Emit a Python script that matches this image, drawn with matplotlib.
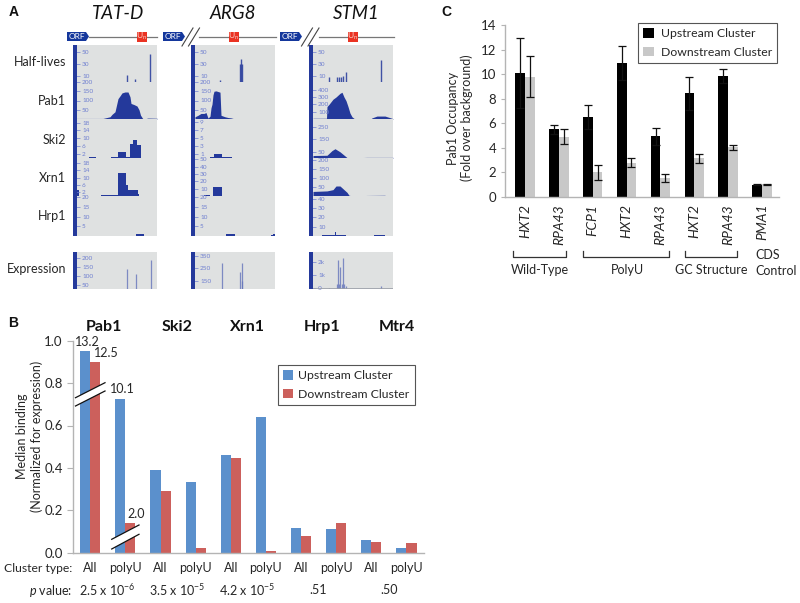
import matplotlib
matplotlib.use("Agg")
import numpy as np
import matplotlib.pyplot as plt
from matplotlib.patches import Polygon, Rectangle
from matplotlib.transforms import ScaledTranslation

plt.rcParams['font.family'] = ['Lato', 'DejaVu Sans']
plt.rcParams['mathtext.fontset'] = 'custom'
plt.rcParams['mathtext.rm'] = 'Lato'
plt.rcParams['mathtext.it'] = 'Lato:italic'
plt.rcParams['mathtext.default'] = 'regular'

W, H = 800, 603
TEXT = '#262626'
GREY_AXIS = '#b4b4b4'
BLUE_TRACK = '#24399b'
TICK_BLUE = '#6f7fd0'

# panel B
binding_labels = ['All', 'polyU'] * 5
binding_up = [0.95, 0.725, 0.39, 0.335, 0.46, 0.64, 0.117, 0.11, 0.06, 0.02]
binding_down = [0.90, 0.14, 0.29, 0.02, 0.445, 0.01, 0.08, 0.14, 0.05, 0.045]
factors = ['Pab1', 'Ski2', 'Xrn1', 'Hrp1', 'Mtr4']
p_values = ['2.5 x 10$^{-6}$', '3.5 x 10$^{-5}$', '4.2 x 10$^{-5}$', '.51', '.50']

# panel C
genes = ['HXT2', 'RPA43', 'FCP1', 'HXT2', 'RPA43', 'HXT2', 'RPA43', 'PMA1']
occ_up = [10.1, 5.5, 6.5, 10.9, 4.95, 8.45, 9.85, 1.0]
occ_down = [9.8, 4.9, 2.0, 2.8, 1.55, 3.15, 4.05, 1.02]
occ_up_err = [2.85, 0.4, 0.95, 1.4, 0.7, 1.35, 0.55, 0.02]
occ_down_err = [1.7, 0.6, 0.6, 0.35, 0.35, 0.35, 0.2, 0.03]

# panel A tracks, x is position along the gene (0-84)
tat_half_x = [53.7, 62, 77.3]
tat_half_y = [12, 5, 47]
tat_pab_x = [0, 30, 37, 39, 42, 45, 47, 49, 52, 55, 57, 58, 61, 64, 66, 67.5, 69.5, 71, 75, 84]
tat_pab_y = [3, 3, 12, 25, 39, 110, 125, 141, 146, 146, 120, 84, 78, 70, 50, 21, 4, 0, 5, 4]
tat_ski_x = [16.3, 23, 38, 44.7, 53, 57, 60, 64.3, 68.3]
tat_ski_y = [0.5, 0, 0.5, 3, 0.5, 7, 9, 6.4, 0]
tat_xrn_x = [3, 6, 28, 45.3, 53, 55.3, 64.7, 66.3]
tat_xrn_y = [3, 0, 0.5, 12.5, 6, 3, 1, 0]
tat_hrp_x = [63, 71]
tat_hrp_y = [1, 0]
tat_expr_x = [54, 62.7, 77.7]
tat_expr_y = [140, 110, 190]

arg_half_x = [29, 48.5, 49.7, 50.7]
arg_half_y = [4, 30, 38, 30]
arg_pab_x = [4, 7, 10, 13, 15, 17, 19, 20, 21, 22, 23, 25, 29, 30, 34, 37, 40, 42, 45]
arg_pab_y = [12, 20, 30, 30, 35, 5, 15, 60, 80, 130, 150, 152, 145, 20, 12, 8, 6, 3, 0]
arg_ski_x = [19, 23, 31.3, 40.7]
arg_ski_y = [0.3, 0.9, 0.3, 0]
arg_xrn_x = [13, 19, 21.7, 31]
arg_xrn_y = [1, 0, 12, 0]
arg_hrp_x = [35, 44, 79.7, 82, 84]
arg_hrp_y = [0.8, 0, 0.6, 1, 1]
arg_expr_x = [30.7, 49.3, 50.7, 51.3]
arg_expr_y = [290, 220, 295, 155]

stm_half_x = [20, 28.3, 30, 32.3, 34.3, 36.7, 71.7]
stm_half_y = [8, 8, 8, 9, 10, 16, 37]
stm_pab_x = [4, 17.5, 18, 20, 24, 27, 31, 33, 35, 37, 39, 41, 43, 45, 48, 62, 63, 68, 76, 84]
stm_pab_y = [10, 10, 170, 200, 270, 300, 350, 365, 300, 250, 170, 80, 30, 8, 3, 3, 15, 40, 40, 5]
stm_ski_x = [4, 18, 23, 26, 31, 34, 37, 38.5, 58, 84]
stm_ski_y = [20, 22, 60, 75, 50, 30, 10, 0, 5, 5]
stm_xrn_x = [4, 18, 24, 27, 31, 34, 38, 40, 44, 58, 76]
stm_xrn_y = [25, 28, 35, 55, 55, 40, 20, 4, 0, 3, 4]
stm_hrp_x = [13, 26, 27, 36.7, 65, 76]
stm_hrp_y = [1.5, 4, 1.5, 0, 1.5, 0]
stm_expr_x = [20, 27.7, 28.7, 30, 31.3, 32.5, 34, 35, 37, 72]
stm_expr_y = [60, 350, 2100, 350, 1600, 350, 2300, 350, 200, 150]

half_ticks = [10, 30, 50]
tat_rows = [
    ('spike', tat_half_x, tat_half_y, (0, 62), half_ticks, None),
    ('fill', tat_pab_x, tat_pab_y, (0, 198), [50, 100, 150, 200], None),
    ('step', tat_ski_x, tat_ski_y, (0, 19.8), [2, 6, 10, 14, 18], None),
    ('step', tat_xrn_x, tat_xrn_y, (0, 20.7), [2, 6, 10, 14, 18], None),
    ('step', tat_hrp_x, tat_hrp_y, (0, 20.7), [5, 10, 15, 20], None),
    ('expr', tat_expr_x, tat_expr_y, (26, 236), [50, 100, 150, 200], None),
]
arg_rows = [
    ('spike', arg_half_x, arg_half_y, (0, 62), half_ticks, None),
    ('fill', arg_pab_x, arg_pab_y, (0, 198), [50, 100, 150, 200], None),
    ('step', arg_ski_x, arg_ski_y, (0, 9.75), [1, 3, 5, 7, 9], None),
    ('step', arg_xrn_x, arg_xrn_y, (0, 52), [10, 20, 30, 40, 50], None),
    ('step', arg_hrp_x, arg_hrp_y, (0, 20.7), [5, 10, 15, 20], None),
    ('expr', arg_expr_x, arg_expr_y, (88, 380), [150, 250, 350], None),
]
stm_rows = [
    ('spike', stm_half_x, stm_half_y, (0, 62), half_ticks, None),
    ('fill', stm_pab_x, stm_pab_y, (0, 505), [100, 200, 300, 400], None),
    ('fill', stm_ski_x, stm_ski_y, (0, 315), [50, 150, 250], None),
    ('fill', stm_xrn_x, stm_xrn_y, (0, 209), [50, 100, 150, 200], None),
    ('step', stm_hrp_x, stm_hrp_y, (0, 43), [10, 20, 30, 40], None),
    ('expr', stm_expr_x, stm_expr_y, (-50, 2730), [0, 1000, 2000], ['0', '1k', '2k']),
]
row_boxes = [(45, 82), (82, 119), (119, 158), (158, 196), (196, 236), (252, 289)]
row_names = ['Half-lives', 'Pab1', 'Ski2', 'Xrn1', 'Hrp1', 'Expression']
row_label_y = [62, 101, 140, 178, 216, 269]
gene_titles = ['TAT-D', 'ARG8', 'STM1']
gene_title_x = [118, 233, 356]


def px_axes(fig, left, top, right, bottom, **kw):
    return fig.add_axes([left / W, 1 - bottom / H, (right - left) / W, (bottom - top) / H], **kw)


def draw_track(fig, left, box, row):
    kind, xs, ys, ylim, ticks, tick_labels = row
    ax = px_axes(fig, left, box[0], left + 84, box[1], facecolor='#dfe1e1')
    ax.set_xlim(0, 84)
    ax.set_ylim(*ylim)
    ax.axvspan(0, 3.5, color=BLUE_TRACK, lw=0, zorder=3)
    if kind == 'fill':
        ax.fill_between(xs, ys, ylim[0], color=BLUE_TRACK, lw=0)
    elif kind == 'step':
        ax.fill_between(xs, ys, ylim[0], step='post', color=BLUE_TRACK, lw=0)
    elif kind == 'spike':
        ax.vlines(xs, ylim[0], ys, color=BLUE_TRACK, lw=1.0, alpha=0.85)
    else:
        ax.vlines(xs, ylim[0], ys, color='#6575bb', lw=0.9, alpha=0.8)
        if ylim[0] < 0:
            ax.axhline(0, color='#9a9fa8', lw=0.6)
    for s in ax.spines.values():
        s.set_visible(False)
    ax.set_xticks([])
    ax.set_yticks(ticks)
    if tick_labels is not None:
        ax.set_yticklabels(tick_labels)
    ax.tick_params(axis='y', direction='in', length=5, width=0.5, color=TICK_BLUE,
                   labelcolor=TICK_BLUE, labelsize=4.6, pad=-6.5)
    for lab in ax.get_yticklabels():
        lab.set_ha('left')


fig = plt.figure(figsize=(W / 100, H / 100), dpi=100)

# panel A
for left, rows in zip([73, 191, 309], [tat_rows, arg_rows, stm_rows]):
    for box, row in zip(row_boxes, rows):
        draw_track(fig, left, box, row)

# page layer in pixel coordinates for annotations
page = fig.add_axes([0, 0, 1, 1], facecolor='none', zorder=5)
page.set_xlim(0, W)
page.set_ylim(H, 0)
page.axis('off')

for name, y in zip(row_names, row_label_y):
    page.text(66, y, name, ha='right', va='center', fontsize=9, color=TEXT)
for name, x in zip(gene_titles, gene_title_x):
    page.text(x, 13.3, name, ha='center', va='center', fontsize=13.5, style='italic', color='#111111')


def draw_orf(x0, y0=32, y1=41):
    page.add_patch(Polygon([(x0, y0), (x0 + 19, y0), (x0 + 22, (y0 + y1) / 2), (x0 + 19, y1), (x0, y1)],
                           closed=True, facecolor='#14379c', edgecolor='none', zorder=3))
    page.text(x0 + 9.5, (y0 + y1) / 2, 'ORF', color='white', fontsize=6, ha='center', va='center', zorder=4)


def draw_u(x0):
    page.add_patch(Rectangle((x0, 32), 10, 10, facecolor='#ea3323', edgecolor='none', zorder=3))
    page.text(x0 + 5, 36.5, 'U$_{n}$', color='#f7d0c8', fontsize=6, ha='center', va='center', zorder=4)


def draw_slashes(x0):
    page.plot([x0, x0 + 11], [46, 28], color='#444444', lw=0.8, zorder=4)
    page.plot([x0 + 6.5, x0 + 17.5], [46, 28], color='#444444', lw=0.8, zorder=4)


page.plot([89, 157], [36.5, 36.5], color='#777777', lw=0.9)
page.plot([199, 275.5], [36.5, 36.5], color='#777777', lw=0.9)
page.plot([319, 394], [36.5, 36.5], color='#777777', lw=0.9)
for x in [67, 163, 280]:
    draw_orf(x)
for x in [137, 229, 348]:
    draw_u(x)
draw_slashes(182)
draw_slashes(301.5)

page.text(14, 12, 'A', fontsize=10, fontweight='bold', family='Liberation Sans', ha='center', va='center', color='#111111')
page.text(13, 323, 'B', fontsize=10, fontweight='bold', family='Liberation Sans', ha='center', va='center', color='#111111')
page.text(446, 12, 'C', fontsize=10, fontweight='bold', family='Liberation Sans', ha='center', va='center', color='#111111')

# panel B
axb = px_axes(fig, 72.7, 340.7, 424, 552.7, facecolor='none')
ind = np.arange(len(binding_up))
bw = 0.287
axb.bar(ind + 0.5 - bw / 2, binding_up, width=bw, color='#5b90cc', label='Upstream Cluster')
axb.bar(ind + 0.5 + bw / 2, binding_down, width=bw, color='#cc605c', label='Downstream Cluster')
axb.set_xlim(0, 10)
axb.set_ylim(0, 1)
axb.set_xticks([])
axb.set_yticks(np.arange(0, 1.01, 0.2))
axb.tick_params(axis='y', length=4, width=0.8, color=GREY_AXIS, labelsize=9.5, labelcolor=TEXT, pad=3.2)
for s in ['top', 'right']:
    axb.spines[s].set_visible(False)
for s in ['left', 'bottom']:
    axb.spines[s].set_color(GREY_AXIS)
    axb.spines[s].set_linewidth(1.0)
leg_b = axb.legend(loc='upper left', bbox_to_anchor=(277.7 / W, 1 - 364.7 / H), bbox_transform=fig.transFigure,
                   fontsize=8.8, frameon=True, fancybox=False, edgecolor='#555555', framealpha=1,
                   borderpad=0.42, labelspacing=0.62, handlelength=0.85, handleheight=0.85, handletextpad=0.42,
                   borderaxespad=0, labelcolor=TEXT)
leg_b.get_frame().set_linewidth(0.8)

page.text(22, 436, 'Median binding', rotation=90, ha='center', va='center', fontsize=9, color=TEXT)
page.text(37, 436, '(Normalized for expression)', rotation=90, ha='center', va='center', fontsize=9, color=TEXT)
for name, x in zip(factors, [104, 176.7, 247, 321.7, 397]):
    page.text(x, 327, name, ha='center', va='center', fontsize=11.5, fontweight='bold', color='#111111')
for i, lab in enumerate(binding_labels):
    page.text(72.7 + 35.13 * (i + 0.5), 568.5, lab, ha='center', va='center', fontsize=9, color=TEXT)
page.text(72.7, 568.5, 'Cluster type:', ha='right', va='center', fontsize=8.7, color=TEXT)
page.text(72.7, 591, '$\\mathit{p}$ value:', ha='right', va='center', fontsize=9, color=TEXT)
for lab, x in zip(p_values, [107, 177, 247, 318, 388.7]):
    page.text(x, 590, lab, ha='center', va='center', fontsize=9, color=TEXT)
for lab, x, y in [('13.2', 87, 342), ('12.5', 106, 353), ('10.1', 122.7, 389), ('2.0', 136, 514)]:
    page.text(x, y, lab, ha='center', va='center', fontsize=9, color=TEXT, zorder=6)


def draw_break(x0, x1, upper, lower):
    page.add_patch(Polygon([(x0, upper[0]), (x1, upper[1]), (x1, lower[1]), (x0, lower[0])],
                           closed=True, facecolor='white', edgecolor='none', zorder=4))
    page.plot([x0, x1], upper, color='#111111', lw=0.9, zorder=5)
    page.plot([x0, x1], lower, color='#111111', lw=0.9, zorder=5)


draw_break(75.5, 105, (397.7, 382.7), (406, 391))
draw_break(111.7, 139, (539.3, 525), (549, 534.3))

# panel C
axc = px_axes(fig, 505, 25, 779, 197, facecolor='none')
ind = np.arange(len(genes))
bw = 0.287
err = dict(ecolor='#111111', elinewidth=0.9, capsize=3.2, capthick=0.9)
axc.bar(ind + 0.5 - bw / 2, occ_up, width=bw, color='#000000', yerr=occ_up_err, error_kw=err, label='Upstream Cluster')
axc.bar(ind + 0.5 + bw / 2, occ_down, width=bw, color='#c8c8c8', yerr=occ_down_err, error_kw=err, label='Downstream Cluster')
axc.set_xlim(-0.09, 8)
axc.set_ylim(0, 14)
axc.set_yticks(np.arange(0, 15, 2))
axc.set_xticks(ind + 0.5)
axc.set_xticklabels(genes, rotation=90, style='italic', fontsize=10, color=TEXT, va='top', ha='center')
shift = ScaledTranslation(2.5 / 72, 0, fig.dpi_scale_trans)
for lab in axc.get_xticklabels():
    lab.set_transform(lab.get_transform() + shift)
axc.tick_params(axis='x', length=0, pad=5)
axc.tick_params(axis='y', length=3, width=0.8, color=GREY_AXIS, labelsize=9.5, labelcolor=TEXT, pad=3.2)
for s in ['top', 'right']:
    axc.spines[s].set_visible(False)
for s in ['left', 'bottom']:
    axc.spines[s].set_color(GREY_AXIS)
    axc.spines[s].set_linewidth(1.0)
leg_c = axc.legend(loc='upper left', bbox_to_anchor=(638 / W, 1 - 22.7 / H), bbox_transform=fig.transFigure,
                   fontsize=8.8, frameon=True, fancybox=False, edgecolor='#555555', framealpha=1,
                   borderpad=0.42, labelspacing=0.62, handlelength=0.9, handleheight=0.85, handletextpad=0.55,
                   borderaxespad=0, labelcolor=TEXT)
leg_c.get_frame().set_linewidth(0.8)

page.text(452.7, 118, 'Pab1 Occupancy', rotation=90, ha='center', va='center', fontsize=9, color=TEXT)
page.text(467, 118, '(Fold over background)', rotation=90, ha='center', va='center', fontsize=9, color=TEXT)
for x0, x1 in [(512.7, 566), (582.7, 668.7), (685, 737)]:
    page.plot([x0, x0, x1, x1], [250.7, 256.7, 256.7, 250.7], color='#333333', lw=0.9)
for lab, x in [('Wild-Type', 540), ('PolyU', 627), ('GC Structure', 711)]:
    page.text(x, 270, lab, ha='center', va='center', fontsize=9, color=TEXT)
page.text(755, 255, 'CDS', ha='left', va='center', fontsize=9, color=TEXT)
page.text(755, 270.7, 'Control', ha='left', va='center', fontsize=9, color=TEXT)

fig.savefig('out.png', dpi=100)
